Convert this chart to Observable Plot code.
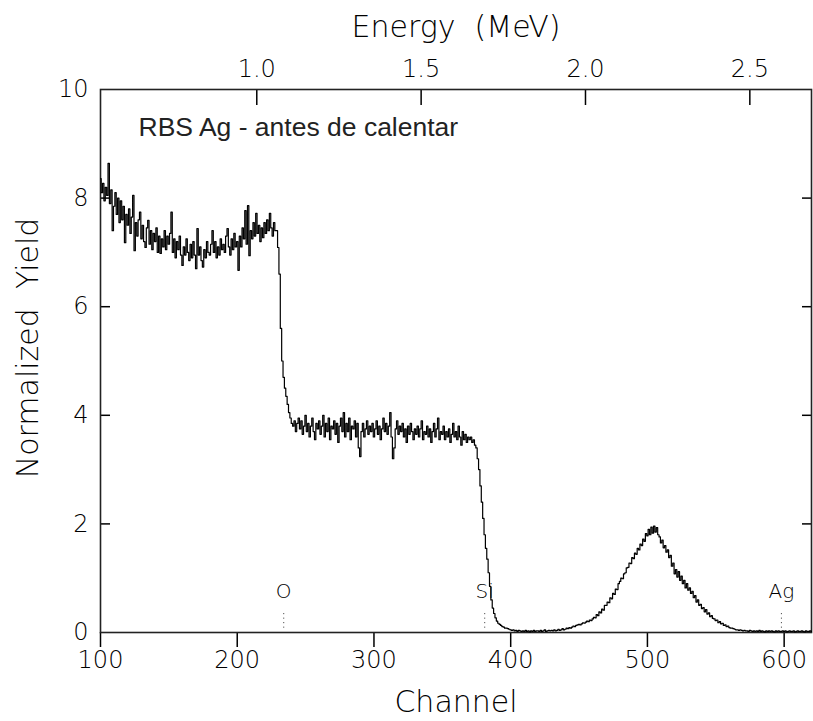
<!DOCTYPE html>
<html>
<head>
<meta charset="utf-8">
<script src="https://cdn.jsdelivr.net/npm/d3@7"></script>
<script src="https://cdn.jsdelivr.net/npm/@observablehq/plot@0.6"></script>
<style>
  html, body { margin: 0; padding: 0; background: #fff; }
</style>
</head>
<body>
<div id="chart"></div>
<script>
// ---- data ----
const firstChannel = 100;
const yieldValues = [
  // 100-109
  8.36, 8.10, 8.27, 7.95, 8.20, 8.05, 8.64, 7.90, 8.15, 7.40,
  // 110-119
  7.85, 8.10, 7.70, 8.00, 7.55, 7.95, 7.60, 7.85, 7.18, 7.70,
  // 120-129
  7.50, 7.80, 7.35, 7.65, 8.05, 7.03, 7.55, 7.30, 7.60, 7.74,
  // 130-139
  7.25, 7.50, 7.20, 7.09, 7.45, 7.59, 7.15, 7.40, 7.05, 7.35,
  // 140-149
  7.20, 7.45, 7.00, 7.30, 6.98, 7.25, 7.10, 7.40, 7.05, 7.30,
  // 150-159
  7.15, 7.35, 7.74, 7.00, 7.25, 6.90, 7.20, 7.05, 7.30, 6.95,
  // 160-169
  6.76, 7.10, 6.95, 7.25, 7.00, 6.85, 7.15, 6.90, 7.20, 6.95,
  // 170-179
  6.70, 7.44, 6.95, 7.10, 6.85, 6.73, 7.05, 6.90, 7.20, 7.00,
  // 180-189
  6.95, 7.15, 7.40, 7.00, 7.20, 6.90, 7.10, 6.95, 7.25, 7.05,
  // 190-199
  7.15, 7.00, 7.30, 7.44, 7.10, 6.95, 7.25, 7.05, 7.35, 7.10,
  // 200-209
  7.20, 6.67, 7.30, 7.10, 7.45, 7.25, 7.77, 7.15, 7.86, 6.94,
  // 210-219
  7.40, 7.25, 7.55, 7.30, 7.72, 7.35, 7.50, 7.20, 7.45, 7.27,
  // 220-229
  7.55, 7.35, 7.60, 7.40, 7.72, 7.45, 7.30, 7.55, 7.40, 7.40,
  // 230-239
  7.09, 6.60, 5.60, 5.00, 4.70, 4.50, 4.35, 4.20, 4.05, 3.95,
  // 240-249
  3.85, 3.80, 3.90, 3.70, 3.85, 3.95, 3.75, 3.90, 3.65, 3.80,
  // 250-259
  4.00, 3.70, 3.85, 3.60, 3.80, 3.95, 3.70, 3.55, 3.85, 3.75,
  // 260-269
  3.90, 3.65, 3.80, 4.00, 3.60, 3.85, 3.70, 3.95, 3.55, 3.80,
  // 270-279
  3.75, 3.90, 3.65, 3.85, 3.50, 3.80, 3.95, 3.70, 4.05, 3.60,
  // 280-289
  3.85, 3.70, 3.95, 3.55, 3.80, 3.75, 3.90, 3.60, 3.85, 3.40,
  // 290-299
  3.24, 3.70, 3.85, 3.60, 3.75, 3.90, 3.65, 3.80, 3.70, 3.85,
  // 300-309
  3.60, 3.75, 3.90, 3.65, 3.80, 3.55, 3.75, 3.95, 3.70, 3.85,
  // 310-319
  3.65, 3.80, 4.05, 3.60, 3.20, 3.40, 3.75, 3.90, 3.65, 3.80,
  // 320-329
  3.70, 3.85, 3.60, 3.75, 3.50, 3.80, 3.65, 3.85, 3.70, 3.55,
  // 330-339
  3.75, 3.65, 3.80, 3.60, 3.75, 3.90, 3.55, 3.70, 3.65, 3.80,
  // 340-349
  3.60, 3.75, 3.50, 3.70, 3.85, 3.60, 3.75, 3.95, 3.55, 3.70,
  // 350-359
  3.65, 3.80, 3.55, 3.70, 3.60, 3.75, 3.50, 3.65, 3.85, 3.60,
  // 360-369
  3.70, 3.55, 3.80, 3.60, 3.45, 3.70, 3.55, 3.65, 3.50, 3.60,
  // 370-379
  3.55, 3.60, 3.50, 3.55, 3.45, 3.40, 3.20, 3.00, 2.70, 2.40,
  // 380-389
  2.10, 1.80, 1.55, 1.35, 1.10, 0.85, 0.60, 0.45, 0.35, 0.27,
  // 390-399
  0.21, 0.17, 0.15, 0.13, 0.11, 0.10, 0.08, 0.08, 0.07, 0.06,
  // 400-409
  0.05, 0.04, 0.05, 0.03, 0.04, 0.02, 0.04, 0.03, 0.02, 0.03,
  // 410-419
  0.02, 0.04, 0.02, 0.03, 0.01, 0.03, 0.02, 0.04, 0.02, 0.03,
  // 420-429
  0.03, 0.02, 0.04, 0.02, 0.03, 0.05, 0.02, 0.03, 0.04, 0.03,
  // 430-439
  0.04, 0.03, 0.05, 0.03, 0.04, 0.06, 0.04, 0.05, 0.07, 0.05,
  // 440-449
  0.06, 0.08, 0.07, 0.09, 0.08, 0.10, 0.12, 0.11, 0.13, 0.14,
  // 450-459
  0.15, 0.14, 0.16, 0.18, 0.17, 0.19, 0.21, 0.20, 0.23, 0.22,
  // 460-469
  0.25, 0.28, 0.27, 0.33, 0.31, 0.38, 0.36, 0.43, 0.41, 0.50,
  // 470-479
  0.50, 0.56, 0.55, 0.64, 0.62, 0.72, 0.70, 0.80, 0.79, 0.90,
  // 480-489
  0.94, 1.00, 0.99, 1.08, 1.10, 1.19, 1.20, 1.28, 1.27, 1.38,
  // 490-499
  1.36, 1.46, 1.44, 1.55, 1.52, 1.63, 1.60, 1.72, 1.68, 1.82,
  // 500-509
  1.78, 1.90, 1.80, 1.94, 1.83, 1.96, 1.85, 1.93, 1.80, 1.76,
  // 510-519
  1.65, 1.70, 1.56, 1.60, 1.48, 1.52, 1.38, 1.42, 1.22, 1.28,
  // 520-529
  1.08, 1.16, 1.02, 1.12, 0.96, 1.04, 0.90, 0.96, 0.82, 0.90,
  // 530-539
  0.78, 0.82, 0.72, 0.76, 0.64, 0.68, 0.56, 0.60, 0.50, 0.52,
  // 540-549
  0.44, 0.46, 0.38, 0.42, 0.34, 0.36, 0.29, 0.31, 0.26, 0.25,
  // 550-559
  0.22, 0.23, 0.18, 0.20, 0.16, 0.17, 0.13, 0.14, 0.11, 0.12,
  // 560-569
  0.09, 0.08, 0.08, 0.07, 0.06, 0.05, 0.05, 0.04, 0.05, 0.04,
  // 570-579
  0.03, 0.04, 0.03, 0.03, 0.02, 0.04, 0.03, 0.02, 0.03, 0.02,
  // 580-589
  0.03, 0.02, 0.04, 0.02, 0.03, 0.02, 0.01, 0.03, 0.02, 0.03,
  // 590-599
  0.02, 0.03, 0.02, 0.01, 0.03, 0.02, 0.03, 0.02, 0.02, 0.03,
  // 600-609
  0.02, 0.03, 0.01, 0.02, 0.03, 0.02, 0.02, 0.03, 0.01, 0.02,
  // 610-619
  0.03, 0.02, 0.02, 0.03, 0.02, 0.01, 0.03, 0.02, 0.02, 0.03,
  // 620
  0.02
];

const channelDomain = [100, 620];
const yieldDomain = [0, 10];
const channelTicks = [100, 200, 300, 400, 500, 600];
const yieldTicks = [0, 2, 4, 6, 8, 10];
const innerYieldTicks = [2, 4, 6, 8];
const energyTicks = [1.0, 1.5, 2.0, 2.5];           // MeV
const channelAtOneMeV = 214.3;                       // energy calibration
const channelsPerMeV = 240.4;
const elementNames = ["O", "Si", "Ag"];
const elementChannels = [234, 381, 598];
const sampleLabel = "RBS Ag - antes de calentar";
const xTitle = "Channel";
const topTitle = "Energy\u00a0 (MeV)";
const yTitle = "Normalized\u00a0 Yield";

// ---- derived tables ----
const spectrum = yieldValues.map((v, i) => ({channel: firstChannel + i, y: v}));
const energyTickChannels = energyTicks.map(e => channelAtOneMeV + (e - 1) * channelsPerMeV);
const energyOf = ch => 1 + (ch - channelAtOneMeV) / channelsPerMeV;
const elements = elementNames.map((name, i) => ({name, channel: elementChannels[i]}));

const axisFont = "DejaVu Sans, Verdana, sans-serif";

const chart = Plot.plot({
  width: 813,
  height: 721,
  marginLeft: 100,
  marginRight: 2,
  marginTop: 89,
  marginBottom: 89,
  style: {fontFamily: axisFont, fontWeight: 200, background: "white", color: "black", overflow: "visible"},
  x: {domain: channelDomain},
  y: {domain: yieldDomain},
  marks: [
    // bottom axis: outward ticks + labels
    Plot.axisX({anchor: "bottom", ticks: channelTicks, tickSize: 15, tickPadding: 3,
      fontSize: 24, fontWeight: 200, label: null, strokeWidth: 1.5}),
    // top axis: inward ticks
    Plot.axisX({anchor: "top", ticks: energyTickChannels, tickSize: -15, tickFormat: () => "",
      label: null, strokeWidth: 1.5}),
    // top axis labels
    Plot.axisX({anchor: "top", ticks: energyTickChannels, tickSize: 0, tickPadding: 13,
      tickFormat: d => energyOf(d).toFixed(1), fontSize: 24, fontWeight: 200, label: null}),
    // left axis labels
    Plot.axisY({anchor: "left", ticks: yieldTicks, tickSize: 0, tickPadding: 12,
      fontSize: 24, fontWeight: 200, label: null}),
    // left / right inward ticks
    Plot.axisY({anchor: "left", ticks: innerYieldTicks, tickSize: -10, tickFormat: () => "",
      label: null, strokeWidth: 1.5}),
    Plot.axisY({anchor: "right", ticks: innerYieldTicks, tickSize: -10, tickFormat: () => "",
      label: null, strokeWidth: 1.5}),
    Plot.frame({stroke: "#222", strokeWidth: 1.6}),
    // element markers
    Plot.ruleX(elements, {x: "channel", y1: 0.08, y2: 0.38, stroke: "#333",
      strokeWidth: 1, strokeDasharray: "1,3.5"}),
    Plot.text(elements, {x: "channel", y: 0.75, text: "name", fontSize: 20, fontWeight: 200,
      fontFamily: axisFont, fill: "black"}),
    // spectrum
    Plot.line(spectrum, {x: "channel", y: "y", curve: "step", stroke: "black", strokeWidth: 1.2}),
    // sample label
    Plot.text([sampleLabel], {frameAnchor: "top-left", dx: 38, dy: 38, textAnchor: "start",
      lineAnchor: "middle", fontSize: 26.5, fontWeight: 400,
      fontFamily: "Liberation Sans, Arial, sans-serif", fill: "#222"}),
    // axis titles
    Plot.text([topTitle], {frameAnchor: "top", dy: -62, textAnchor: "middle", lineAnchor: "middle",
      fontSize: 30, fontWeight: 200, fill: "black"}),
    Plot.text([xTitle], {frameAnchor: "bottom", dy: 70, textAnchor: "middle", lineAnchor: "middle",
      fontSize: 30, fontWeight: 200, fill: "black"}),
    Plot.text([yTitle], {frameAnchor: "left", dx: -72, dy: -13, rotate: -90, textAnchor: "middle",
      lineAnchor: "middle", fontSize: 30, fontWeight: 200, fill: "black"})
  ]
});

document.getElementById("chart").appendChild(chart);
</script>
</body>
</html>
